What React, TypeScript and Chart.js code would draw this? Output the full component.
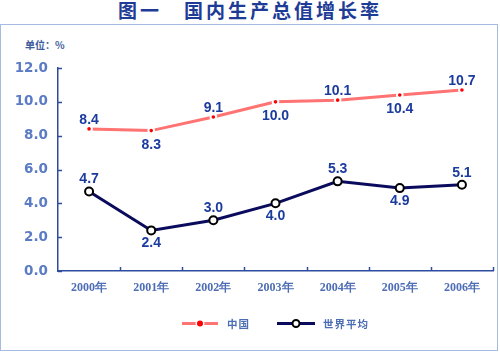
import React, { useEffect, useRef } from "react";
import { Chart, registerables } from "chart.js";

Chart.register(...registerables);

const categories = ["2000年", "2001年", "2002年", "2003年", "2004年", "2005年", "2006年"];
const chinaValues = [8.4, 8.3, 9.1, 10.0, 10.1, 10.4, 10.7];
const worldValues = [4.7, 2.4, 3.0, 4.0, 5.3, 4.9, 5.1];
const chinaLabelSide = ["above", "below", "above", "below", "above", "below", "above"];
const worldLabelSide = ["above", "below", "above", "below", "above", "below", "above"];
const seriesNames = ["中国", "世界平均"];
const yTicks = [0, 2, 4, 6, 8, 10, 12];

const AXIS_COLOR = "#2d4c9f";
const LABEL_COLOR = "#1b3b9e";
const CHINA_LINE = "#ff7373";
const CHINA_DOT = "#ff0000";
const WORLD_LINE = "#0b0b5e";

const tickPlugin = {
  id: "inwardTicks",
  afterDraw(chart: any) {
    const { ctx, chartArea, scales } = chart;
    const x = scales.x;
    const y = scales.y;
    ctx.save();
    ctx.strokeStyle = AXIS_COLOR;
    ctx.lineWidth = 1.5;
    yTicks.forEach((v) => {
      const py = Math.round(y.getPixelForValue(v)) + 0.5;
      ctx.beginPath();
      ctx.moveTo(chartArea.left, py);
      ctx.lineTo(chartArea.left + 4, py);
      ctx.stroke();
    });
    const n = categories.length;
    for (let i = 1; i <= n; i++) {
      const px =
        i < n
          ? (x.getPixelForValue(i - 1) + x.getPixelForValue(i)) / 2
          : chartArea.right;
      ctx.beginPath();
      ctx.moveTo(Math.round(px) + 0.5, chartArea.bottom);
      ctx.lineTo(Math.round(px) + 0.5, chartArea.bottom - 4);
      ctx.stroke();
    }
    ctx.restore();
  },
};

const valueLabelPlugin = {
  id: "valueLabels",
  afterDatasetsDraw(chart: any) {
    const { ctx } = chart;
    ctx.save();
    ctx.font = 'bold 14px "Liberation Sans", Arial, sans-serif';
    ctx.fillStyle = LABEL_COLOR;
    ctx.textAlign = "center";
    ctx.textBaseline = "alphabetic";
    chart.data.datasets.forEach((ds: any, di: number) => {
      const meta = chart.getDatasetMeta(di);
      meta.data.forEach((pt: any, i: number) => {
        const side = ds.labelSide[i];
        const off = side === "above" ? -ds.labelOffsets.above : ds.labelOffsets.below;
        ctx.fillText(ds.data[i].toFixed(1), pt.x, pt.y + off);
      });
    });
    ctx.restore();
  },
};

const legendPlugin = {
  id: "customLegend",
  afterDraw(chart: any) {
    const { ctx } = chart;
    const cy = 323.5;
    ctx.save();
    // China
    ctx.strokeStyle = CHINA_LINE;
    ctx.lineWidth = 3;
    ctx.beginPath();
    ctx.moveTo(182, cy);
    ctx.lineTo(218, cy);
    ctx.stroke();
    ctx.beginPath();
    ctx.arc(200, cy, 4.5, 0, Math.PI * 2);
    ctx.fillStyle = "#ffffff";
    ctx.fill();
    ctx.beginPath();
    ctx.arc(200, cy, 3, 0, Math.PI * 2);
    ctx.fillStyle = CHINA_DOT;
    ctx.fill();
    // World
    ctx.strokeStyle = WORLD_LINE;
    ctx.lineWidth = 3;
    ctx.beginPath();
    ctx.moveTo(277, cy);
    ctx.lineTo(315, cy);
    ctx.stroke();
    ctx.beginPath();
    ctx.arc(296, cy, 3.5, 0, Math.PI * 2);
    ctx.fillStyle = "#ffffff";
    ctx.fill();
    ctx.lineWidth = 2;
    ctx.strokeStyle = "#000000";
    ctx.stroke();
    // text
    ctx.font = 'bold 10.5px "Noto Sans CJK SC", sans-serif';
    (ctx as any).letterSpacing = "1px";
    ctx.fillStyle = "#4a6db3";
    ctx.textBaseline = "middle";
    ctx.textAlign = "left";
    ctx.fillText(seriesNames[0], 227, cy + 1);
    ctx.fillText(seriesNames[1], 323, cy + 1);
    ctx.restore();
  },
};

export default function App() {
  const canvasRef = useRef<HTMLCanvasElement | null>(null);

  useEffect(() => {
    document.body.style.margin = "0";
    const canvas = canvasRef.current;
    if (!canvas) return;
    const chart = new Chart(canvas, {
      type: "line",
      data: {
        labels: categories,
        datasets: [
          {
            label: seriesNames[0],
            data: chinaValues,
            borderColor: CHINA_LINE,
            borderWidth: 3,
            pointRadius: 2.8,
            pointBackgroundColor: CHINA_DOT,
            pointBorderColor: "#ffffff",
            pointBorderWidth: 2,
            tension: 0,
            labelSide: chinaLabelSide,
            labelOffsets: { above: 5, below: 18 },
          } as any,
          {
            label: seriesNames[1],
            data: worldValues,
            borderColor: WORLD_LINE,
            borderWidth: 3,
            pointRadius: 4,
            pointBackgroundColor: "#ffffff",
            pointBorderColor: "#000000",
            pointBorderWidth: 2,
            tension: 0,
            labelSide: worldLabelSide,
            labelOffsets: { above: 8, below: 17 },
          } as any,
        ],
      },
      options: {
        responsive: false,
        animation: false,
        devicePixelRatio: 1,
        layout: { padding: { left: 0, top: 68, right: 7, bottom: 0 } },
        plugins: {
          legend: { display: false },
          title: { display: false },
          tooltip: { enabled: false },
        },
        scales: {
          x: {
            offset: true,
            grid: { display: true, drawOnChartArea: false, drawTicks: false },
            border: { display: true, color: AXIS_COLOR, width: 1.5 },
            ticks: {
              padding: 10,
              color: "#4d6db5",
              font: { family: '"Liberation Serif", serif', size: 12, weight: "bold" },
              maxRotation: 0,
            },
            afterFit: (scale: any) => {
              scale.height = 81;
            },
          },
          y: {
            min: 0,
            max: 12,
            grid: { display: true, drawOnChartArea: false, drawTicks: false },
            border: { display: true, color: AXIS_COLOR, width: 1.5 },
            ticks: {
              stepSize: 2,
              padding: 10,
              color: "#5b7cc4",
              font: { family: '"DejaVu Sans", sans-serif', size: 13.5, weight: "bold" },
              callback: (v: any) => Number(v).toFixed(1),
            },
            afterFit: (scale: any) => {
              scale.width = 58;
            },
          },
        },
      },
      plugins: [tickPlugin, valueLabelPlugin, legendPlugin],
    });
    return () => chart.destroy();
  }, []);

  return (
    <div style={{ position: "relative", width: 500, height: 352, background: "#ffffff", overflow: "hidden" }}>
      <div
        style={{
          position: "absolute",
          left: 0,
          top: 0,
          width: 500,
          height: 22,
          lineHeight: "20px",
          textAlign: "center",
          fontFamily: '"Noto Sans CJK SC", sans-serif',
          fontWeight: "bold",
          fontSize: 19,
          letterSpacing: 3,
          color: "#1e3c96",
        }}
      >
        图一　国内生产总值增长率
      </div>
      <div
        style={{
          position: "absolute",
          left: 0,
          top: 24,
          width: 498,
          height: 327,
          boxSizing: "border-box",
          border: "1px solid #a6bbe2",
        }}
      />
      <div
        style={{
          position: "absolute",
          left: 25,
          top: 38,
          fontFamily: '"Noto Sans CJK SC", sans-serif',
          fontWeight: "bold",
          fontSize: 10,
          lineHeight: "14px",
          color: "#3d5c9c",
        }}
      >
        单位：%
      </div>
      <canvas
        ref={canvasRef}
        width={500}
        height={352}
        style={{ position: "absolute", left: 0, top: 0 }}
      />
    </div>
  );
}
